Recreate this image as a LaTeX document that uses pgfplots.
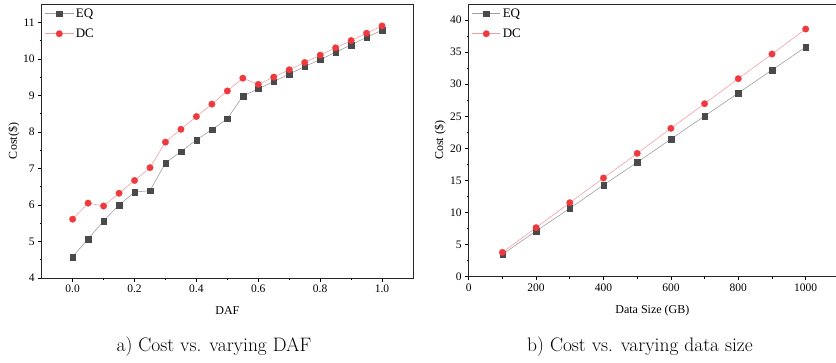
\documentclass[border=0pt]{standalone}
\usepackage{fontspec}
\usepackage{pgfplots}
\pgfplotsset{compat=1.18}
\newfontfamily\timesfont{Liberation Serif}
\definecolor{eqmark}{HTML}{4A4A4A}
\definecolor{eqline}{HTML}{A0A0A0}
\definecolor{dcmark}{HTML}{F0393E}
\definecolor{dcline}{HTML}{F4A0A3}
\pgfplotsset{
  common/.style={
    scale only axis,
    tick align=outside,
    tick pos=left,
    minor tick num=1,
    major tick length=3.5pt,
    minor tick length=2pt,
    every tick/.style={black, line width=0.6pt},
    axis line style={line width=0.8pt, black!85},
    /pgf/number format/assume math mode=true,
    xticklabel={\pgfmathprintnumber{\tick}},
    yticklabel={\pgfmathprintnumber{\tick}},
    tick label style={font=\timesfont\fontsize{11.5}{12}\selectfont},
    label style={font=\timesfont\fontsize{12}{13}\selectfont},
    legend style={draw=none, fill=none, font=\timesfont\fontsize{13}{14}\selectfont,
      at={(0.005,0.995)}, anchor=north west, row sep=6pt, inner sep=1pt},
    legend cell align=left,
    legend image code/.code={\draw[mark repeat=2,mark phase=2] plot coordinates {(0cm,0cm) (0.5cm,0cm) (1.0cm,0cm)};},
  },
  eq/.style={color=eqline, line width=0.6pt, mark=square*, mark size=2.8pt,
    mark options={fill=eqmark, draw=eqmark, line width=0.2pt}},
  dc/.style={color=dcline, line width=0.6pt, mark=*, mark size=3.3pt,
    mark options={fill=dcmark, draw=dcmark, line width=0.2pt}},
}
\begin{document}
\begin{tikzpicture}[x=1pt,y=1pt]
\useasboundingbox (0,0) rectangle (836,362);
% Left panel
\begin{axis}[common,
  at={(41.7pt,84pt)}, anchor=south west,
  width=371.3pt, height=274pt,
  xmin=-0.1, xmax=1.1, ymin=4, ymax=11.5,
  xtick={0,0.2,0.4,0.6,0.8,1.0}, ytick={4,5,...,11},
  xticklabel style={/pgf/number format/fixed, /pgf/number format/precision=1, /pgf/number format/fixed zerofill},
  xlabel={DAF}, ylabel={Cost(\$)},
  xlabel style={at={(axis description cs:0.5,-0.12)}, anchor=center},
  ylabel style={at={(axis description cs:-0.075,0.5)}, anchor=center},
]
\addplot[eq] coordinates {
(0.00,4.58) (0.05,5.07) (0.10,5.56) (0.15,6.00) (0.20,6.35) (0.25,6.39) (0.30,7.15)
(0.35,7.46) (0.40,7.78) (0.45,8.06) (0.50,8.36) (0.55,8.98) (0.60,9.18) (0.65,9.38)
(0.70,9.58) (0.75,9.79) (0.80,9.98) (0.85,10.18) (0.90,10.38) (0.95,10.59) (1.00,10.78)};
\addlegendentry{EQ}
\addplot[dc] coordinates {
(0.00,5.61) (0.05,6.05) (0.10,5.97) (0.15,6.32) (0.20,6.67) (0.25,7.02) (0.30,7.72)
(0.35,8.07) (0.40,8.42) (0.45,8.76) (0.50,9.12) (0.55,9.47) (0.60,9.30) (0.65,9.50)
(0.70,9.70) (0.75,9.90) (0.80,10.10) (0.85,10.30) (0.90,10.50) (0.95,10.70) (1.00,10.90)};
\addlegendentry{DC}
\end{axis}
% Right panel
\begin{axis}[common,
  at={(468.7pt,85.3pt)}, anchor=south west,
  width=367.3pt, height=272.7pt,
  axis x line*=box, axis y line*=left,
  xmin=0, xmax=1090, ymin=0, ymax=42.5,
  xtick={0,200,...,1000}, ytick={0,5,...,40},
  xticklabel style={/pgf/number format/1000 sep={}},
  xlabel={Data Size (GB)}, ylabel={Cost (\$)},
  xlabel style={at={(axis description cs:0.5,-0.126)}, anchor=center},
  ylabel style={at={(axis description cs:-0.078,0.5)}, anchor=center},
]
\addplot[eq] coordinates {
(100,3.48) (200,7.12) (300,10.65) (400,14.29) (500,17.82) (600,21.45) (700,25.04)
(800,28.62) (900,32.21) (1000,35.79)};
\addlegendentry{EQ}
\addplot[dc] coordinates {
(100,3.79) (200,7.64) (300,11.53) (400,15.38) (500,19.22) (600,23.12) (700,26.96)
(800,30.86) (900,34.70) (1000,38.60)};
\addlegendentry{DC}
\end{axis}
\node[font=\fontsize{19.5}{22}\selectfont] at (214,15) {a)\ Cost vs. varying DAF};
\node[font=\fontsize{19.5}{22}\selectfont] at (640,15) {b)\ Cost vs. varying data size};
\end{tikzpicture}
\end{document}
